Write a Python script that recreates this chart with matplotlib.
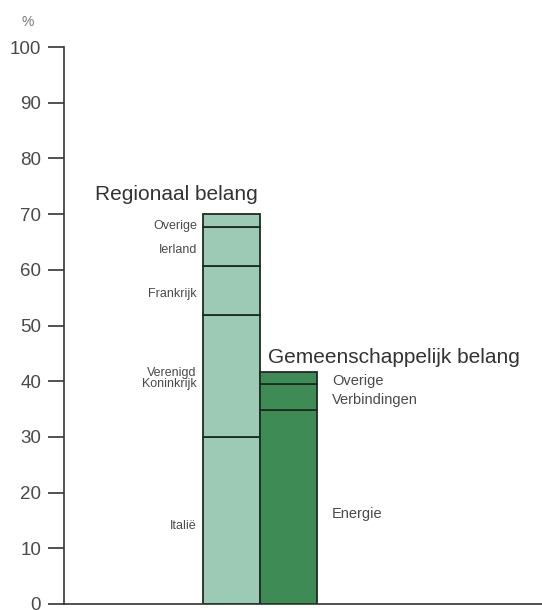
import matplotlib
matplotlib.use('Agg')
import matplotlib.pyplot as plt
import numpy as np

# Regional interest (left bar), bottom to top
regional_labels = ['Italië', 'Verenigd\nKoninkrijk', 'Frankrijk', 'Ierland', 'Overige']
regional_values = [29.9, 21.9, 8.8, 7.1, 2.3]

# Community interest (right bar), bottom to top
community_labels = ['Energie', 'Verbindingen', 'Overige']
community_values = [34.8, 4.7, 2.2]

y_ticks = [0, 10, 20, 30, 40, 50, 60, 70, 80, 90, 100]

plt.rcParams['font.family'] = ['Liberation Sans', 'DejaVu Sans']

light_green = '#9dcab4'
dark_green = '#3f8b55'
edge_color = '#1f2b22'
text_color = '#4a4a4a'

fig = plt.figure(figsize=(5.42, 6.10), dpi=100)
ax = fig.add_axes([64 / 542, 6 / 610, 478 / 542, 557 / 610])

# Stacked bars
bar_w = 1.2
x_reg, x_com = 3.5, 4.7
bottoms = np.concatenate([[0], np.cumsum(regional_values)[:-1]])
ax.bar([x_reg] * len(regional_values), regional_values, bottom=bottoms,
       width=bar_w, color=light_green, edgecolor=edge_color, linewidth=1.3)
bottoms_c = np.concatenate([[0], np.cumsum(community_values)[:-1]])
ax.bar([x_com] * len(community_values), community_values, bottom=bottoms_c,
       width=bar_w, color=dark_green, edgecolor=edge_color, linewidth=1.3)

# Segment labels
left_y = [14.0, 40.5, 55.6, 63.6, 67.9]
for lab, yy in zip(regional_labels, left_y):
    ax.text(2.78, yy, lab, ha='right', va='center', fontsize=9,
            color=text_color, linespacing=0.95)
right_y = [16.1, 36.7, 40.1]
for lab, yy in zip(community_labels, right_y):
    ax.text(5.61, yy, lab, ha='left', va='center', fontsize=10.5,
            color=text_color)

ax.text(0.65, 73.5, 'Regionaal belang', ha='left', va='center',
        fontsize=15, color='#333333')
ax.text(4.27, 44.3, 'Gemeenschappelijk belang', ha='left', va='center',
        fontsize=15, color='#333333')

ax.set_xlim(0, 10)
ax.set_ylim(0, 100)
ax.set_yticks(y_ticks)
ax.set_xticks([])
ax.tick_params(axis='y', direction='out', length=11.5, width=1.2, pad=5,
               labelsize=13.5, labelcolor=text_color, color='#333333')
for side in ['top', 'right']:
    ax.spines[side].set_visible(False)
ax.spines['left'].set_color('#333333')
ax.spines['bottom'].set_color('#333333')
ax.spines['left'].set_linewidth(1.2)
ax.spines['bottom'].set_linewidth(1.2)
ax.patch.set_alpha(0)

fig.text(22 / 542, 1 - 22 / 610, '%', ha='left', va='center', fontsize=10,
         color='#777777')

fig.savefig('out.png', dpi=100)
